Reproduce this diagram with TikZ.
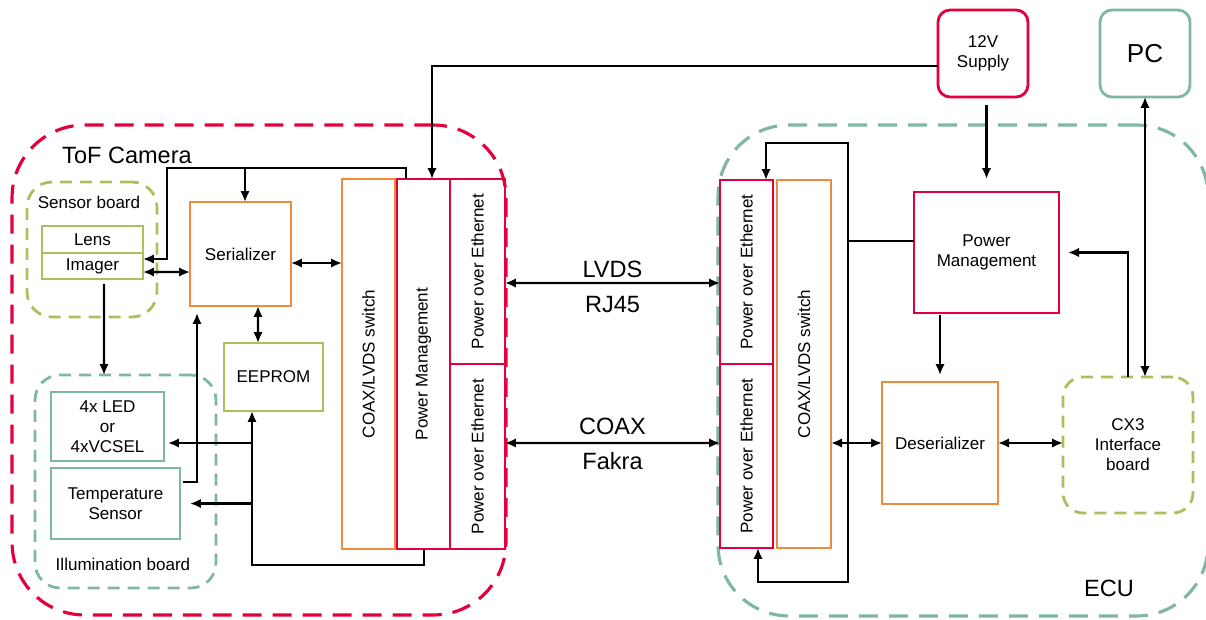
\documentclass[tikz,border=0pt]{standalone}
\usepackage{fontspec}
\setmainfont{Liberation Sans}
\usepackage{graphicx}
\definecolor{camred}{RGB}{228,0,60}
\definecolor{serorange}{RGB}{240,138,60}
\definecolor{boardgreen}{RGB}{169,193,92}
\definecolor{ecuteal}{RGB}{127,184,162}
\usetikzlibrary{positioning,shapes,arrows,arrows.meta,calc}

\tikzset{
    box/.style={draw,rectangle,line width=1.6pt,outer sep=0pt,inner sep=1pt,align=center,
        font=\fontsize{9.7}{11.4}\selectfont},
    bigbox/.style={draw,rectangle,dash pattern=on 0.38cm off 0.22cm,line width=1.8pt,outer sep=0pt},
    board/.style={draw,rectangle,dash pattern=on 0.24cm off 0.16cm,line width=1.6pt,outer sep=0pt,
        align=center,font=\fontsize{9.7}{11.4}\selectfont},
    lbl/.style={inner sep=1pt,font=\fontsize{9.7}{11.4}\selectfont},
    biglbl/.style={inner sep=1pt,font=\fontsize{13.4}{16}\selectfont},
    conn/.style={line width=1.25pt,black}
}

\begin{document}
\begin{tikzpicture}[x=0.02cm,y=-0.02cm,>={Latex[length=2.2mm,width=1.9mm]}]
    \useasboundingbox (0,0) rectangle (1206,619);

    % groups
    \node[bigbox,draw=camred,rounded corners=1.45cm,minimum width=9.88cm,minimum height=9.8cm] (camera) at (259,370) {};
    \node[bigbox,draw=ecuteal,rounded corners=1.42cm,minimum width=9.8cm,minimum height=9.82cm] (ecu) at (963,370.5) {};
    \node[board,draw=boardgreen,rounded corners=0.5cm,minimum width=2.6cm,minimum height=2.7cm] (sensorboard) at (92,249.5) {};
    \node[board,draw=ecuteal,rounded corners=0.5cm,minimum width=3.62cm,minimum height=4.26cm] (illumboard) at (125.5,481.5) {};
    \node[board,draw=boardgreen,rounded corners=0.4cm,minimum width=2.6cm,minimum height=2.72cm] (cx3) at (1128,445) {CX3\\Interface\\board};

    \node[biglbl] (camlabel) at (127,155) {ToF Camera};
    \node[lbl] (sensorlabel) at (89,202) {Sensor board};
    \node[lbl] (illumlabel) at (123,564) {Illumination board};
    \node[biglbl] (eculabel) at (1109,588) {ECU};

    % camera side
    \node[box,draw=boardgreen,minimum width=2.02cm,minimum height=0.54cm] (lens) at (92.5,239.5) {Lens};
    \node[box,draw=boardgreen,minimum width=2.02cm,minimum height=0.52cm,below=0pt of lens] (imager) {Imager};
    \node[box,draw=serorange,minimum width=2.02cm,minimum height=2.08cm] (serializer) at (240.5,254) {Serializer};
    \node[box,draw=boardgreen,minimum width=1.98cm,minimum height=1.36cm] (eeprom) at (273.5,377) {EEPROM};
    \node[box,draw=ecuteal,minimum width=2.26cm,minimum height=1.38cm] (led) at (107.5,426.5) {4x LED\\or\\4xVCSEL};
    \node[box,draw=ecuteal,minimum width=2.58cm,minimum height=1.42cm] (temp) at (115.5,503.5) {Temperature\\Sensor};

    \node[box,draw=serorange,minimum width=1.06cm,minimum height=7.4cm] (cswitchL) at (368.5,364) {\rotatebox{90}{COAX/LVDS switch}};
    \node[box,draw=camred,minimum width=1.06cm,minimum height=7.4cm] (pmL) at (423.5,364) {\rotatebox{90}{Power Management}};
    \node[box,draw=camred,minimum width=1.1cm,minimum height=3.7cm,anchor=north west] (poeLa) at (pmL.north east) {\rotatebox{90}{Power over Ethernet}};
    \node[box,draw=camred,minimum width=1.1cm,minimum height=3.7cm,below=0pt of poeLa] (poeLb) {\rotatebox{90}{Power over Ethernet}};

    % ECU side
    \node[box,draw=camred,minimum width=1.06cm,minimum height=3.68cm] (poeRa) at (746.5,272) {\rotatebox{90}{Power over Ethernet}};
    \node[box,draw=camred,minimum width=1.06cm,minimum height=3.68cm,below=0pt of poeRa] (poeRb) {\rotatebox{90}{Power over Ethernet}};
    \node[box,draw=serorange,minimum width=1.08cm,minimum height=7.36cm] (cswitchR) at (804,364) {\rotatebox{90}{COAX/LVDS switch}};
    \node[box,draw=serorange,minimum width=2.32cm,minimum height=2.44cm] (deser) at (940,443) {Deserializer};
    \node[box,draw=camred,minimum width=2.9cm,minimum height=2.42cm] (pmR) at (986.5,252.5) {Power\\Management};
    \node[box,draw=camred,rounded corners=0.24cm,minimum width=1.8cm,minimum height=1.74cm] (supply) at (983,53.5) {12V\\Supply};
    \node[box,draw=ecuteal,rounded corners=0.24cm,minimum width=1.8cm,minimum height=1.74cm,font=\fontsize{14.8}{17}\selectfont] (pc) at (1145,53.5) {PC};

    % camera connections
    \coordinate (ctrlL) at (167,168);
    \coordinate (ctrlB) at (252,565);
    \coordinate (ledin) at ($(led.east)+(0,16.5)$);
    \draw[conn,->] ($(supply.west)+(0,12.5)$) -| ($(pmL.north)+(8.5,0)$);
    \draw[conn,->] ($(pmL.north)+(-17.5,0)$) |- (ctrlL) |- ($(imager.east)+(0,-7)$);
    \draw[conn,->] ($(serializer.north |- ctrlL)+(4.5,0)$) -- ($(serializer.north)+(4.5,0)$);
    \draw[conn,<->] ($(imager.east)+(0,6)$) -- ($(serializer.west)+(0,18)$);
    \draw[conn,<->] ($(serializer.east)+(0,9)$) -- ($(cswitchL.west)+(0,-101)$);
    \draw[conn,<->] ($(serializer.south)+(17.5,0)$) -- ($(eeprom.north)+(-15.5,0)$);
    \draw[conn,->] ($(imager.south)+(11.5,5)$) -- ($(illumboard.north)+(-21.5,0)$);
    \draw[conn,->] ($(temp.east)+(3,-21.5)$) -| ($(serializer.south)+(-43.5,7)$);
    \draw[conn,->] ($(pmL.south)+(0.5,0)$) |- (ctrlB) -- ($(eeprom.south)+(-21.5,0)$);
    \draw[conn,->] (ctrlB |- ledin) -- ($(ledin)+(4,0)$);
    \draw[conn,->] (ctrlB |- temp.east) -- ($(temp.east)+(10,0)$);

    % links
    \draw[conn,<->] ($(poeLa.east)+(0,11.5)$) -- ($(poeRa.west)+(0,11)$)
        node[midway,above=0.04cm,biglbl] (lvdslabel) {LVDS}
        node[midway,below=0.2cm,biglbl] (rjlabel) {RJ45};
    \draw[conn,<->] ($(poeLb.east)+(0,-13.5)$) -- ($(poeRb.west)+(0,-13)$)
        node[midway,above=0.1cm,biglbl] (coaxlabel) {COAX}
        node[midway,below=0.14cm,biglbl] (fakralabel) {Fakra};

    % ECU connections
    \coordinate (loopT) at (848,143);
    \coordinate (loopB) at (848,582);
    \coordinate (pmRin) at ($(pmR.west)+(0,-11.5)$);
    \draw[conn,<->] ($(poeRb.south)+(11.5,0)$) |- (loopB) -- (loopT) -| ($(poeRa.north)+(19.5,0)$);
    \draw[conn] (pmRin) -- (pmRin -| loopT);
    \draw[conn,<->] ($(cswitchR.east)+(0,79)$) -- (deser.west);
    \draw[conn,->] ($(pmR.north |- supply.south)+(0,8)$) -- ($(pmR.north)+(0,-13)$);
    \draw[conn,->] ($(deser.north |- pmR.south)+(0,2)$) -- ($(deser.north)+(0,-7)$);
    \draw[conn,<->] (deser.east) -- (deser.east -| cx3.west);
    \draw[conn,<->] (pc.south |- cx3.north) -- (pc.south);
    \draw[conn,->] (cx3.north) |- ($(pmR.east)+(9,0)$);
\end{tikzpicture}
\end{document}
